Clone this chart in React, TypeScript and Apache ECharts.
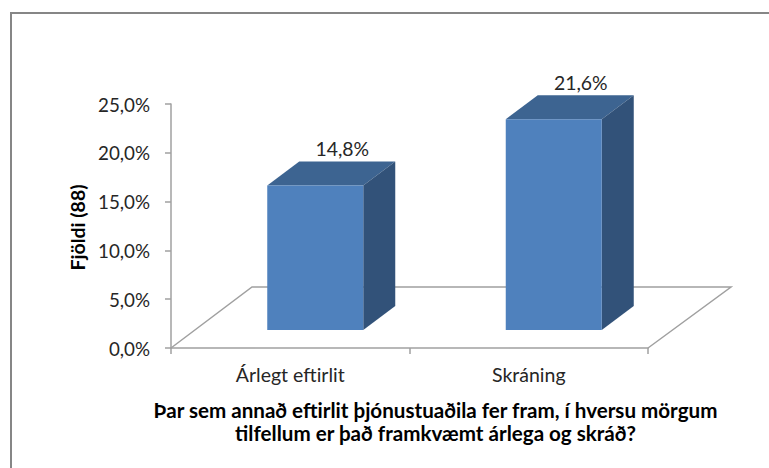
import React, { useEffect, useRef } from "react";
import * as echarts from "echarts";

const categories = ["Árlegt eftirlit", "Skráning"];
const values = [14.8, 21.6];
const valueLabels = ["14,8%", "21,6%"];
const yTicks = [0, 5, 10, 15, 20, 25];
const yAxisTitle = "Fjöldi (88)";
const xAxisTitle = "Þar sem annað eftirlit þjónustuaðila fer fram, í hversu mörgum\ntilfellum er það framkvæmt árlega og skráð?";

const FONT = "Lato";

export default function App() {
  const ref = useRef<HTMLDivElement>(null);
  useEffect(() => {
    const chart = echarts.init(ref.current!, null, { renderer: "svg" });
    const DX = 32, DY = -24, BASE = -18, HALF = 48, SHIFT = 25;
    const line = { stroke: "#a0a0a0", lineWidth: 1.5, fill: "none" };
    chart.setOption({
      animation: false,
      backgroundColor: "#fff",
      grid: { left: 171, top: 104, width: 477, height: 244, containLabel: false },
      graphic: [
        { type: "polyline", shape: { points: [[11, 468], [11, 13], [769, 13]] }, style: { fill: "none", stroke: "#868686", lineWidth: 2 }, silent: true },
      ],
      xAxis: {
        type: "category",
        data: categories,
        axisTick: { show: true, length: 6, alignWithLabel: false, lineStyle: { color: "#a0a0a0", width: 1.5 } },
        axisLine: { lineStyle: { color: "#a0a0a0", width: 1.5 } },
        axisLabel: { color: "#262626", fontFamily: FONT, fontSize: 19.5, margin: 16 },
        name: xAxisTitle,
        nameLocation: "middle",
        nameGap: 50,
        nameTextStyle: { color: "#000", fontFamily: FONT, fontWeight: "bold", fontSize: 20.6, lineHeight: 23, align: "center", verticalAlign: "top", padding: [0, 0, 0, 52] },
      },
      yAxis: {
        type: "value",
        min: 0,
        max: 25,
        interval: 5,
        axisLine: { show: true, lineStyle: { color: "#a0a0a0", width: 1.5 } },
        axisTick: { show: true, length: 6, lineStyle: { color: "#a0a0a0", width: 1.5 } },
        splitLine: { show: false },
        axisLabel: {
          color: "#262626",
          fontFamily: FONT,
          fontSize: 18.8,
          margin: 21,
          formatter: (v: number) => (yTicks.includes(v) ? v.toFixed(1).replace(".", ",") + "%" : ""),
        },
        name: yAxisTitle,
        nameLocation: "middle",
        nameGap: 84,
        nameRotate: 90,
        nameTextStyle: { color: "#000", fontFamily: FONT, fontWeight: "bold", fontSize: 19.5, padding: [0, 3, 0, 0] },
      },
      series: [
        {
          type: "custom",
          coordinateSystem: "cartesian2d",
          clip: false,
          silent: true,
          z: 1,
          data: [[0, 0]],
          renderItem: (_p: any, api: any) => {
            const c0 = api.coord([0, 0]);
            const c1 = api.coord([1, 0]);
            const step = c1[0] - c0[0];
            const x0 = c0[0] - step / 2, x1 = c1[0] + step / 2, y0 = c0[1];
            const bx = 81, by = -61;
            return {
              type: "group",
              children: [
                { type: "polyline", shape: { points: [[x0, y0], [x0 + bx, y0 + by], [x1 + 83, y0 + by], [x1, y0]] }, style: line },
              ],
            };
          },
        },
        {
          type: "custom",
          coordinateSystem: "cartesian2d",
          clip: false,
          silent: true,
          z: 2,
          data: values.map((v, i) => [i, v]),
          encode: { x: 0, y: 1 },
          renderItem: (p: any, api: any) => {
            const c = api.coord([api.value(0), api.value(1)]);
            const b = api.coord([api.value(0), 0]);
            const cx = c[0] + SHIFT;
            const l = cx - HALF, r = cx + HALF;
            const t = c[1] + BASE, bt = b[1] + BASE;
            return {
              type: "group",
              children: [
                { type: "polygon", shape: { points: [[l, t], [l + DX, t + DY], [r + DX, t + DY], [r, t]] }, style: { fill: "#3d6491" } },
                { type: "polygon", shape: { points: [[r, t], [r + DX, t + DY], [r + DX, bt + DY], [r, bt]] }, style: { fill: "#325279" } },
                { type: "rect", shape: { x: l, y: t, width: r - l, height: bt - t }, style: { fill: "#4f81bd" } },
                {
                  type: "text",
                  x: cx + 27,
                  y: t + DY - 13,
                  style: { text: valueLabels[p.dataIndex], fill: "#262626", font: `19.4px ${FONT}`, align: "center", verticalAlign: "middle" },
                },
              ],
            };
          },
        },
      ],
    });
    return () => chart.dispose();
  }, []);
  return <div ref={ref} style={{ position: "fixed", left: 0, top: 0, width: 769, height: 468 }} />;
}
